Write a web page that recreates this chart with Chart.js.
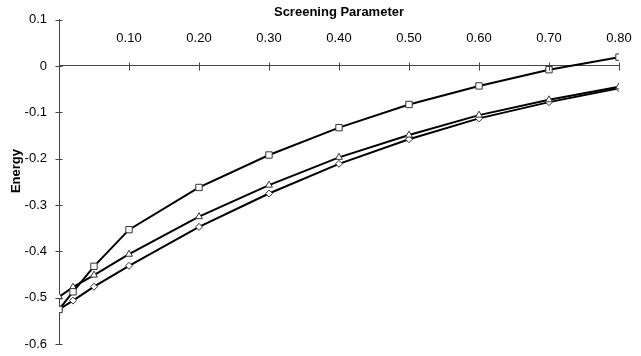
<!DOCTYPE html>
<html>
<head>
<meta charset="utf-8">
<script src="https://cdn.jsdelivr.net/npm/chart.js@4.4.0/dist/chart.umd.min.js"></script>
<style>
  html, body { margin: 0; padding: 0; background: #fff; }
  #wrap { width: 641px; height: 356px; }
</style>
</head>
<body>
<div id="wrap"><canvas id="grafico" width="641" height="356"></canvas></div>
<script>
// datos
const screening = [0, 0.02, 0.05, 0.10, 0.20, 0.30, 0.40, 0.50, 0.60, 0.70, 0.80];
const energySquare = [-0.525, -0.487, -0.432, -0.353, -0.262, -0.192, -0.133, -0.083, -0.043, -0.008, 0.019];
const energyTriangle = [-0.498, -0.477, -0.451, -0.406, -0.325, -0.257, -0.197, -0.149, -0.106, -0.073, -0.045];
const energyDiamond = [-0.525, -0.506, -0.476, -0.431, -0.347, -0.275, -0.211, -0.158, -0.113, -0.078, -0.048];

const xTicks = [0.10, 0.20, 0.30, 0.40, 0.50, 0.60, 0.70, 0.80];
const yTicks = [0.1, 0, -0.1, -0.2, -0.3, -0.4, -0.5, -0.6];

function puntos(ys) {
    return screening.map((x, i) => ({ x: x, y: ys[i] }));
}

function serie(ys, estilo, radio) {
    return {
        data: puntos(ys),
        showLine: true,
        borderColor: '#000',
        borderWidth: 2,
        pointStyle: estilo,
        pointRadius: radio,
        pointBackgroundColor: '#fff',
        pointBorderColor: '#333',
        pointBorderWidth: 1,
        tension: 0
    };
}

// marcas de tick que cruzan el eje
const cruces = {
    id: 'cruces',
    afterDraw(chart) {
        const ctx = chart.ctx;
        const xs = chart.scales.x, ys = chart.scales.y;
        const y0 = Math.round(ys.getPixelForValue(0)) + 0.5;
        const x0 = Math.round(xs.getPixelForValue(0)) + 0.5;
        ctx.save();
        ctx.strokeStyle = '#444';
        ctx.lineWidth = 1;
        ctx.beginPath();
        xTicks.forEach(v => {
            const px = Math.round(xs.getPixelForValue(v)) + 0.5;
            ctx.moveTo(px, y0 - 4);
            ctx.lineTo(px, y0 + 4);
        });
        yTicks.forEach(v => {
            const py = Math.round(ys.getPixelForValue(v)) + 0.5;
            ctx.moveTo(x0 - 4, py);
            ctx.lineTo(x0 + 3, py);
        });
        ctx.stroke();
        ctx.restore();
    }
};

const ctx = document.getElementById('grafico').getContext('2d');
const grafico = new Chart(ctx, {
    type: 'scatter',
    data: {
        datasets: [
            serie(energySquare, 'rect', 4.5),
            serie(energyTriangle, 'triangle', 4),
            serie(energyDiamond, 'rectRot', 3.5)
        ]
    },
    options: {
        responsive: false,
        animation: false,
        layout: { padding: { left: 0, right: 22, top: 0, bottom: 9 } },
        plugins: {
            legend: { display: false },
            tooltip: { enabled: false },
            title: {
                display: true,
                text: 'Screening Parameter',
                fullSize: false,
                color: '#000',
                font: { family: 'Arial, "Liberation Sans"', size: 13, weight: 'bold' },
                padding: { top: 5, bottom: -1 }
            }
        },
        scales: {
            x: {
                type: 'linear',
                position: { y: 0 },
                min: 0,
                max: 0.8,
                afterBuildTicks: s => { s.ticks = xTicks.map(v => ({ value: v })); },
                ticks: {
                    color: '#000',
                    font: { family: 'Arial, "Liberation Sans"', size: 13 },
                    padding: -43,
                    maxRotation: 0,
                    callback: v => v.toFixed(2)
                },
                grid: { display: false },
                border: { display: true, color: '#444', width: 1 }
            },
            y: {
                type: 'linear',
                min: -0.6,
                max: 0.1,
                afterBuildTicks: s => { s.ticks = yTicks.map(v => ({ value: v })); },
                afterFit: s => { s.width = 59; },
                ticks: {
                    color: '#000',
                    font: { family: 'Arial, "Liberation Sans"', size: 13 },
                    padding: 4,
                    callback: v => String(Math.round(v * 10) / 10)
                },
                grid: { display: false },
                border: { display: true, color: '#444', width: 1 },
                title: {
                    display: true,
                    text: '      Energy',
                    color: '#000',
                    font: { family: 'Arial, "Liberation Sans"', size: 13, weight: 'bold' },
                    padding: { top: 9, bottom: 0 }
                }
            }
        }
    },
    plugins: [cruces]
});
</script>
</body>
</html>
